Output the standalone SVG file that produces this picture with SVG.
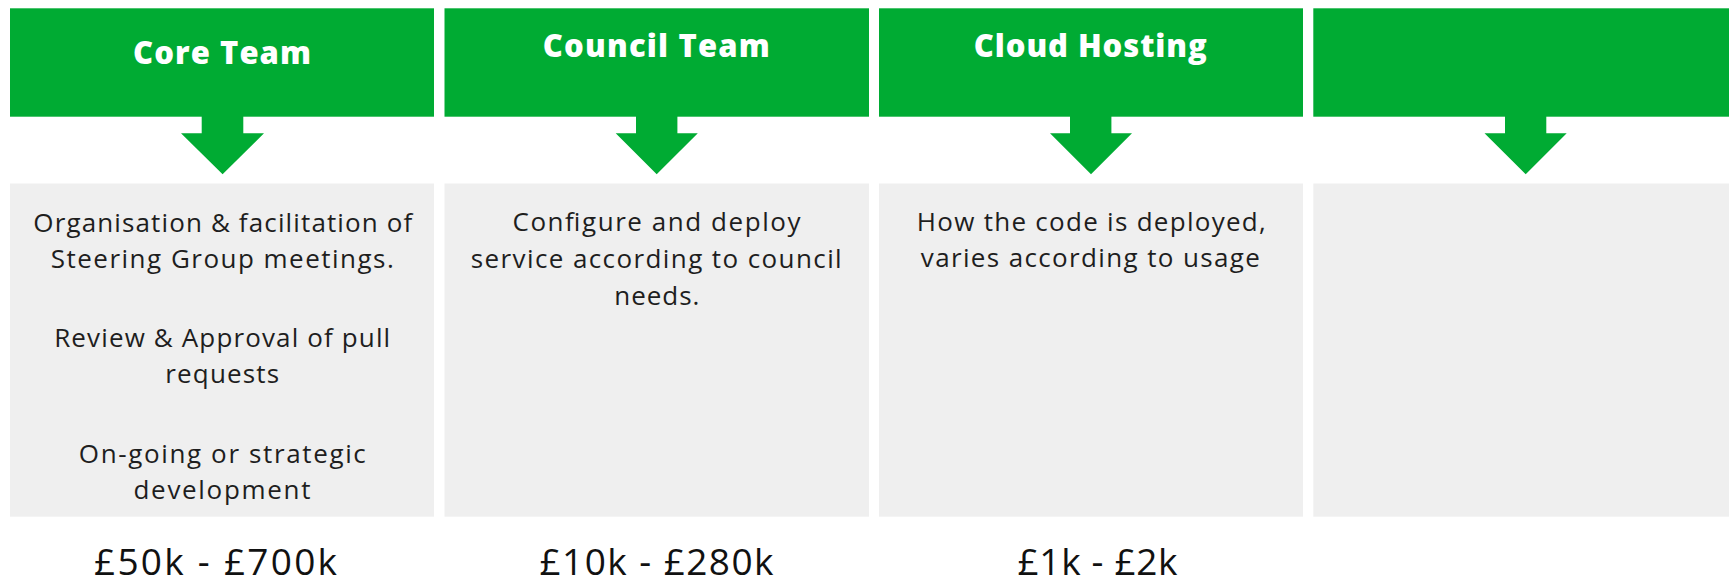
<svg xmlns="http://www.w3.org/2000/svg" width="1729" height="585" viewBox="0 0 1729 585">
<style>
.hdr{fill:#00ab33}
.body{fill:#efefef}
.arrow{fill:#00ab33}
.title{font-family:"Open Sans","Noto Sans",sans-serif;font-weight:800;font-size:31px;fill:#ffffff;text-anchor:middle}
.txt{font-family:"Open Sans","Noto Sans",sans-serif;font-size:26px;fill:#1e1e1e;text-anchor:middle}
.cost{font-family:"Open Sans","Noto Sans",sans-serif;font-size:37px;fill:#111111;text-anchor:middle}
</style>
<rect width="1729" height="585" fill="#ffffff"/>
<g id="core-team">
<rect class="hdr" x="10" y="8.3" width="424" height="108.4"/>
<text class="title" x="222" y="64" textLength="178">Core Team</text>
<rect class="body" x="10" y="183.5" width="424" height="333.2"/>
<text class="txt" x="222.8" y="231.5" textLength="379">Organisation &amp; facilitation of</text>
<text class="txt" x="222.3" y="267.5" textLength="343">Steering Group meetings.</text>
<text class="txt" x="222.2" y="346.7" textLength="336">Review &amp; Approval of pull</text>
<text class="txt" x="222.2" y="383" textLength="114">requests</text>
<text class="txt" x="222.3" y="463.3" textLength="287">On-going or strategic</text>
<text class="txt" x="222" y="499.3" textLength="177">development</text>
<text class="cost" x="215.5" y="575" textLength="243">£50k - £700k</text>
</g>
<g id="council-team">
<rect class="hdr" x="444.5" y="8.3" width="424.5" height="108.4"/>
<text class="title" x="656.3" y="57.3" textLength="227">Council Team</text>
<rect class="body" x="444.5" y="183.5" width="424.5" height="333.2"/>
<text class="txt" x="656.5" y="230.7" textLength="288">Configure and deploy</text>
<text class="txt" x="656.2" y="268.3" textLength="371">service according to council</text>
<text class="txt" x="656.8" y="305" textLength="85">needs.</text>
<text class="cost" x="656.5" y="575" textLength="234">£10k - £280k</text>
</g>
<g id="cloud-hosting">
<rect class="hdr" x="879" y="8.3" width="424" height="108.4"/>
<text class="title" x="1090.3" y="57.3" textLength="233">Cloud Hosting</text>
<rect class="body" x="879" y="183.5" width="424" height="333.2"/>
<text class="txt" x="1091.3" y="231" textLength="349">How the code is deployed,</text>
<text class="txt" x="1090.3" y="267.3" textLength="339">varies according to usage</text>
<text class="cost" x="1097.5" y="575" textLength="160">£1k - £2k</text>
</g>
<g id="column-4">
<rect class="hdr" x="1313.3" y="8.3" width="424" height="108.4"/>
<rect class="body" x="1313.3" y="183.5" width="424" height="333.2"/>
</g>
<g id="connectors">
<polygon class="arrow" points="201.7,110 243.3,110 243.3,133.3 264,133.3 222.6,174.3 181,133.3 201.7,133.3"/>
<polygon class="arrow" points="636,110 677.4,110 677.4,133.3 697.8,133.3 656.7,174.3 615.7,133.3 636,133.3"/>
<polygon class="arrow" points="1070,110 1111.4,110 1111.4,133.3 1132,133.3 1091,174.3 1050,133.3 1070,133.3"/>
<polygon class="arrow" points="1505,110 1546.3,110 1546.3,133.3 1566.7,133.3 1525.7,174.3 1484.5,133.3 1505,133.3"/>
</g>
</svg>
